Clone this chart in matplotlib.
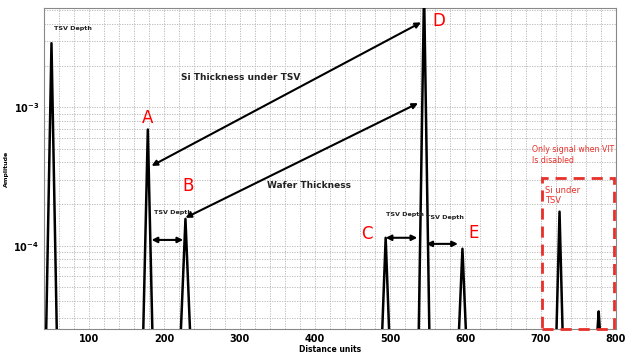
import matplotlib
matplotlib.use("Agg")
import matplotlib.pyplot as plt
from matplotlib.patches import Rectangle

# ── Data ─────────────────────────────────────────────────────────────────────
peak_x      = [50, 178, 228, 494, 545, 596, 725, 777]
peak_amp    = [2.9e-3, 6.9e-4, 1.56e-4, 1.14e-4, 7e-3, 9.5e-5, 1.76e-4, 3.35e-5]
peak_halfw  = [7, 6, 6, 4.5, 7, 4.5, 4, 1.5]

letters     = ["A", "B", "C", "D", "E"]
letter_x    = [177, 232, 469, 565, 611]
letter_y    = [8.3e-4, 2.7e-4, 1.22e-4, 4.2e-3, 1.24e-4]

# double arrows: (x0, y0, x1, y1)
arrows = [
    (183, 3.77e-4, 541, 4.1e-3),   # Si thickness under TSV
    (228, 1.59e-4, 537, 1.07e-3),  # wafer thickness
    (183, 1.10e-4, 225, 1.10e-4),  # TSV depth A-B
    (494, 1.14e-4, 536, 1.14e-4),  # TSV depth C-D
    (548, 1.03e-4, 590, 1.03e-4),  # TSV depth D-E
]

black_labels = ["TSV Depth", "Si Thickness under TSV", "Wafer Thickness",
                "TSV Depth", "TSV Depth", "TSV Depth"]
black_x      = [54, 302, 392, 186, 495, 548]
black_y      = [3.7e-3, 1.64e-3, 2.7e-4, 1.73e-4, 1.67e-4, 1.6e-4]
black_ha     = ["left", "center", "center", "left", "left", "left"]

xmin, xmax = 40, 800
ymin, ymax = 2.5e-5, 5.2e-3
box_x0, box_x1, box_ytop = 702, 797, 3.1e-4

cond = ["Liberation Sans Narrow", "DejaVu Sans"]

fig = plt.figure(figsize=(6.37, 3.53), dpi=100)
ax = fig.add_axes([0.069, 0.068, 0.898, 0.909])
ax.set_yscale("log")
ax.set_xlim(xmin, xmax)
ax.set_ylim(ymin, ymax)

# grid
for gx in range(xmin, xmax + 1, 20):
    ax.axvline(gx, color="#b4b4b4", lw=0.6, ls=(0, (1.5, 1.5)), zorder=0)
ax.yaxis.grid(True, which="both", color="#b4b4b4", lw=0.6, ls=(0, (1.5, 1.5)))
ax.set_axisbelow(True)

# peaks (narrow spikes rising from the floor)
for cx, amp, hw in zip(peak_x, peak_amp, peak_halfw):
    ax.plot([cx - hw, cx, cx + hw], [ymin, amp, ymin], color="black", lw=1.8,
            solid_joinstyle="round", zorder=3)

for x0, y0, x1, y1 in arrows:
    ax.annotate("", xy=(x1, y1), xytext=(x0, y0),
                arrowprops=dict(arrowstyle="<|-|>", color="black", lw=1.5,
                                mutation_scale=8, shrinkA=0, shrinkB=0), zorder=4)

for s, x, y, ha in zip(black_labels, black_x, black_y, black_ha):
    fs = 6.5 if s != "TSV Depth" else 4.6
    ax.text(x, y, s, ha=ha, va="center", fontsize=fs, fontweight="bold",
            family=cond, color="#222222")

for s, x, y in zip(letters, letter_x, letter_y):
    ax.text(x, y, s, ha="center", va="center", fontsize=12, color="red")

ax.text(689, 4.5e-4, "Only signal when VIT\nIs disabled", ha="left", va="center",
        fontsize=5.6, color="#e8302a", linespacing=1.25)
ax.text(706, 2.3e-4, "Si under\nTSV", ha="left", va="center",
        fontsize=6, color="#e8302a", linespacing=1.25)
ax.add_patch(Rectangle((box_x0, ymin), box_x1 - box_x0, box_ytop - ymin,
                       fill=False, ec="#e8302a", lw=2, ls=(0, (4, 2.5)),
                       zorder=5, clip_on=False))

ax.set_xticks([100, 200, 300, 400, 500, 600, 700, 800])
ax.tick_params(axis="both", which="both", length=0, labelsize=7)
for lab in ax.get_xticklabels() + ax.get_yticklabels():
    lab.set_family(cond)
    lab.set_fontweight("bold")
ax.set_xlabel("Distance units", fontsize=5.5, fontweight="bold", labelpad=1)
ax.set_ylabel("Amplitude", fontsize=4.5, fontweight="bold", labelpad=3)
for sp in ax.spines.values():
    sp.set_color("#888888")
    sp.set_linewidth(0.8)

fig.savefig("out.png", dpi=100)
